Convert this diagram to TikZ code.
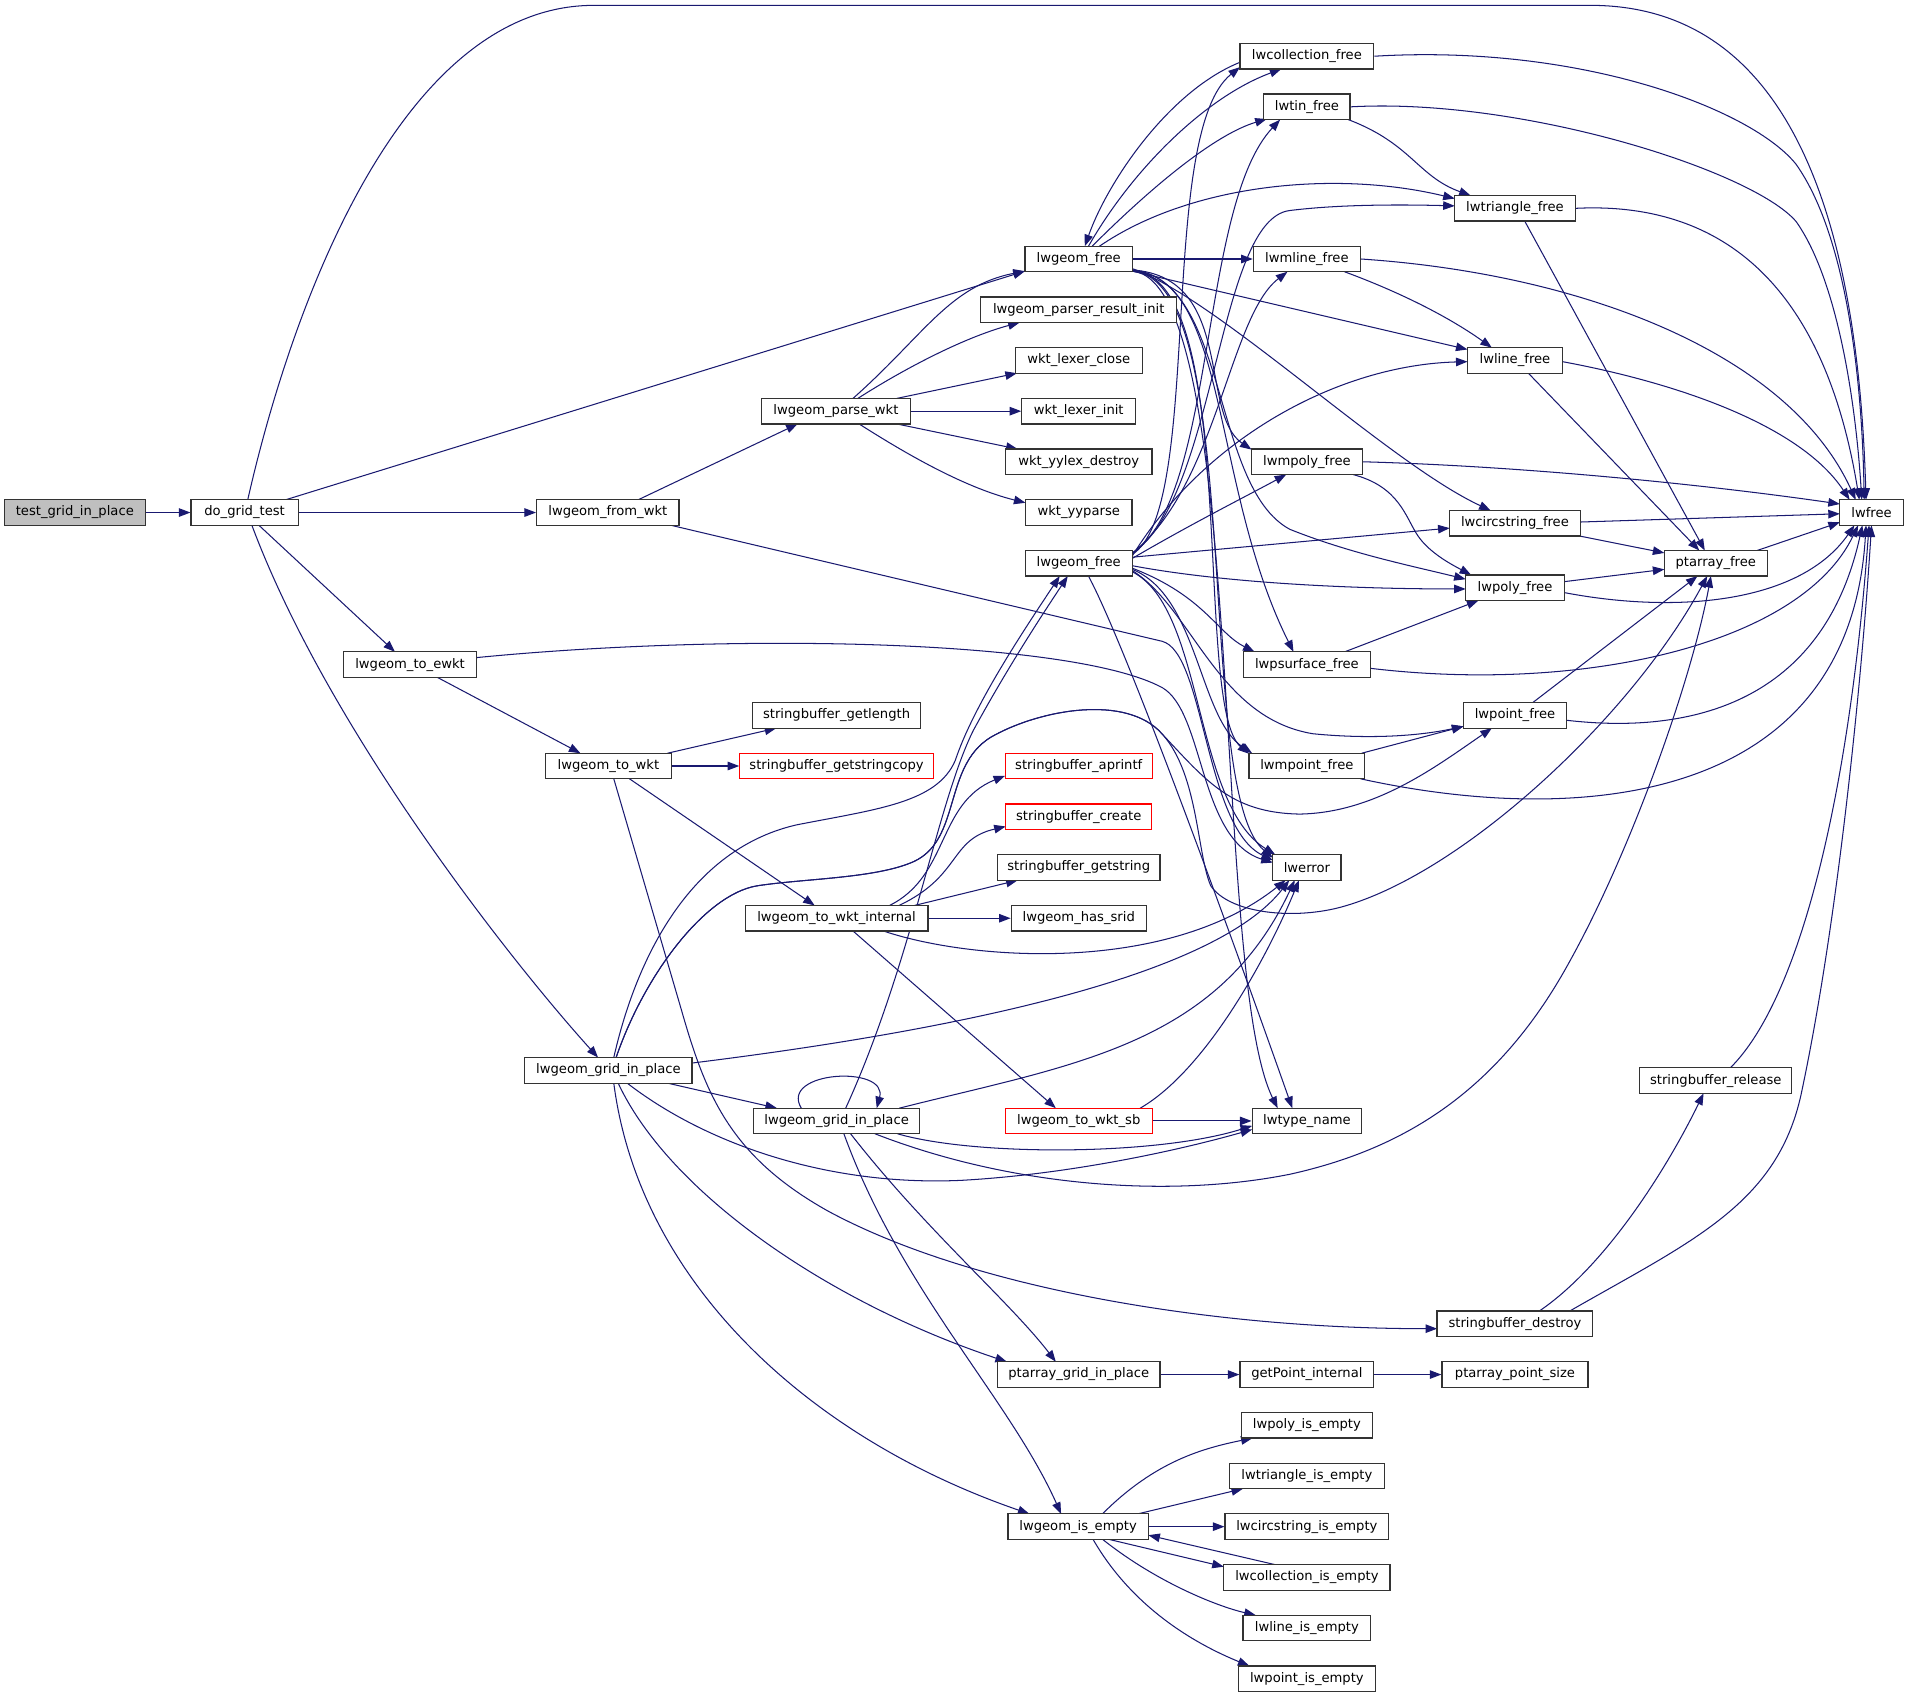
\documentclass[tikz,border=0pt]{standalone}
\usepackage{fontspec}
\newfontfamily\dvs{DejaVu Sans}
\usetikzlibrary{arrows.meta}
\definecolor{edgeblue}{HTML}{191970}
\pgfdeclarelayer{bg}
\pgfsetlayers{bg,main}
\tikzset{
  nd/.style={draw=black!80, line width=1pt, fill=white, minimum height=21pt, inner xsep=6pt, inner ysep=0pt, font=\dvs\fontsize{10.8pt}{13pt}\selectfont},
  rnd/.style={nd, draw=red},
  root/.style={nd, fill=black!25},
  edg/.style={draw=edgeblue, line width=0.85pt, -{Triangle[length=9.5pt,width=7pt]}}
}
\begin{document}
\begin{tikzpicture}[x=1pt,y=-1pt]
\useasboundingbox (0,0) rectangle (1568,1394);

\node[root, minimum width=116pt] (tgip) at (61.5,421.2) {test\_grid\_in\_place};
\node[nd, minimum width=88pt] (dgt) at (201,421.2) {do\_grid\_test};
\node[nd, minimum width=117pt] (lwfw) at (499.5,421.2) {lwgeom\_from\_wkt};
\node[nd, minimum width=122pt] (lwpw) at (687,337.9) {lwgeom\_parse\_wkt};
\node[nd, minimum width=88.5pt] (lwf5) at (886.5,212.85) {lwgeom\_free};
\node[nd, minimum width=161pt] (lprinit) at (886.5,254.5) {lwgeom\_parser\_result\_init};
\node[nd, minimum width=104.5pt] (wlc) at (886.5,296.2) {wkt\_lexer\_close};
\node[nd, minimum width=93.5pt] (wli) at (886.5,337.9) {wkt\_lexer\_init};
\node[nd, minimum width=120.5pt] (wyd) at (886.5,379.5) {wkt\_yylex\_destroy};
\node[nd, minimum width=87.5pt] (wyp) at (886.5,421.2) {wkt\_yyparse};
\node[nd, minimum width=88pt] (lwf11) at (886.5,462.9) {lwgeom\_free};
\node[nd, minimum width=110pt] (lwcf) at (1074,46.2) {lwcollection\_free};
\node[nd, minimum width=71pt] (lwtin) at (1074,87.8) {lwtin\_free};
\node[nd, minimum width=99pt] (lwtri) at (1245,171.2) {lwtriangle\_free};
\node[nd, minimum width=88pt] (lwml) at (1074,212.85) {lwmline\_free};
\node[nd, minimum width=78pt] (lwl) at (1245,296.2) {lwline\_free};
\node[nd, minimum width=91pt] (lwmp) at (1074,379.5) {lwmpoly\_free};
\node[nd, minimum width=107.4pt] (lwcs) at (1245,430) {lwcircstring\_free};
\node[nd, minimum width=81pt] (lwpf) at (1245,483) {lwpoly\_free};
\node[nd, minimum width=84.4pt] (ptf) at (1410,462.9) {ptarray\_free};
\node[nd, minimum width=52pt] (lwfree) at (1538,421.2) {lwfree};
\node[nd, minimum width=104pt] (lwps) at (1074,546.2) {lwpsurface\_free};
\node[nd, minimum width=84.6pt] (lwpt) at (1245,587.9) {lwpoint\_free};
\node[nd, minimum width=95pt] (lwmpt) at (1074,629.5) {lwmpoint\_free};
\node[nd, minimum width=56pt] (lwerr) at (1074,712.9) {lwerror};
\node[nd, minimum width=109.5pt] (lwte) at (337,546.2) {lwgeom\_to\_ewkt};
\node[nd, minimum width=103.5pt] (lwtw) at (500,629.5) {lwgeom\_to\_wkt};
\node[nd, minimum width=137.7pt] (sbgl) at (687.5,587.9) {stringbuffer\_getlength};
\node[rnd, minimum width=159pt] (sbgsc) at (687.5,629.5) {stringbuffer\_getstringcopy};
\node[rnd, minimum width=121pt] (sbap) at (886.5,629.5) {stringbuffer\_aprintf};
\node[rnd, minimum width=120pt] (sbcr) at (886.5,671.2) {stringbuffer\_create};
\node[nd, minimum width=133.6pt] (sbgs) at (886.5,712.9) {stringbuffer\_getstring};
\node[nd, minimum width=150.3pt] (lwtwi) at (687.5,754.6) {lwgeom\_to\_wkt\_internal};
\node[nd, minimum width=111pt] (lhs) at (886.5,754.6) {lwgeom\_has\_srid};
\node[nd, minimum width=137.5pt] (grid1) at (500,879.6) {lwgeom\_grid\_in\_place};
\node[nd, minimum width=136.8pt] (grid2) at (687.5,921.2) {lwgeom\_grid\_in\_place};
\node[rnd, minimum width=121pt] (sb) at (886.5,921.2) {lwgeom\_to\_wkt\_sb};
\node[nd, minimum width=90pt] (lwtn) at (1074,921.2) {lwtype\_name};
\node[nd, minimum width=125pt] (sbrel) at (1410,888) {stringbuffer\_release};
\node[nd, minimum width=128pt] (sbdes) at (1245,1087.9) {stringbuffer\_destroy};
\node[nd, minimum width=133.6pt] (ptgip) at (886.5,1129.6) {ptarray\_grid\_in\_place};
\node[nd, minimum width=110pt] (gpi) at (1074,1129.6) {getPoint\_internal};
\node[nd, minimum width=120pt] (pps) at (1245,1129.6) {ptarray\_point\_size};
\node[nd, minimum width=115.4pt] (lwie) at (886,1254.6) {lwgeom\_is\_empty};
\node[nd, minimum width=108pt] (lwpie) at (1074,1171.3) {lwpoly\_is\_empty};
\node[nd, minimum width=127pt] (lwtie) at (1074,1212.9) {lwtriangle\_is\_empty};
\node[nd, minimum width=134.5pt] (lwcie) at (1074,1254.6) {lwcircstring\_is\_empty};
\node[nd, minimum width=136.6pt] (lwcoie) at (1074,1296.3) {lwcollection\_is\_empty};
\node[nd, minimum width=105pt] (lwlie) at (1074,1337.9) {lwline\_is\_empty};
\node[nd, minimum width=112.5pt] (lwptie) at (1074,1379.6) {lwpoint\_is\_empty};

\begin{pgfonlayer}{bg}
\fill[white] (0,0) rectangle (1568,1394);
% root and do_grid_test
\draw[edg] (tgip.east) -- (dgt.west);
\draw[edg] ([shift={(2.6,-10.5)}]dgt.center) .. controls (240,250) and (330,4.4) .. (488,4.4) -- (1307,4.4) .. controls (1440,4.4) and (1525,120) .. ([shift={(-4.5,-10.5)}]lwfree.center);
\draw[edg] ([shift={(33.8,-10.5)}]dgt.center) -- ([shift={(-44.25,10)}]lwf5.center);
\draw[edg] (dgt.east) -- (lwfw.west);
\draw[edg] ([shift={(11.8,10.5)}]dgt.center) -- ([shift={(-12.4,-10.5)}]lwte.center);
\draw[edg] ([shift={(6,10.5)}]dgt.center) .. controls (270,600) and (420,790) .. ([shift={(-8.5,-10.5)}]grid1.center);
% lwgeom_from_wkt
\draw[edg] ([shift={(25,-10.5)}]lwfw.center) -- ([shift={(-31.5,10.5)}]lwpw.center);
\draw[edg] ([shift={(52,10.5)}]lwfw.center) -- (955,527) .. controls (990,536) and (990,680) .. ([shift={(-28,-6)}]lwerr.center);
% lwgeom_parse_wkt
\draw[edg] ([shift={(14,-10.5)}]lwpw.center) .. controls (760,275) and (780,235) .. ([shift={(-44.25,10)}]lwf5.center);
\draw[edg] ([shift={(18,-10.5)}]lwpw.center) .. controls (740,305) and (790,278) .. ([shift={(-48.5,10.5)}]lprinit.center);
\draw[edg] ([shift={(50,-10.5)}]lwpw.center) -- ([shift={(-50.8,10.5)}]wlc.center);
\draw[edg] (lwpw.east) -- (wli.west);
\draw[edg] ([shift={(50,10.5)}]lwpw.center) -- ([shift={(-50.2,-10.5)}]wyd.center);
\draw[edg] ([shift={(19,10.5)}]lwpw.center) .. controls (740,370) and (790,400) .. ([shift={(-43.75,-8)}]wyp.center);
% lwgeom_free (upper)
\draw[edg] ([shift={(-55,5)}]lwcf.center) .. controls (960,75) and (910,150) .. ([shift={(5,-10.5)}]lwf5.center);
\draw[edg] ([shift={(8,-10.5)}]lwf5.center) .. controls (930,140) and (990,80) .. ([shift={(-21,10.5)}]lwcf.center);
\draw[edg] ([shift={(11,-10.5)}]lwf5.center) .. controls (950,150) and (1000,110) .. ([shift={(-33,10)}]lwtin.center);
\draw[edg] ([shift={(17,-10.5)}]lwf5.center) .. controls (980,150) and (1100,140) .. ([shift={(-49.5,-8)}]lwtri.center);
\draw[edg] (lwf5.east) -- (lwml.west);
\draw[edg] ([shift={(44.25,10)}]lwf5.center) -- ([shift={(-39,-9)}]lwl.center);
\draw[edg] ([shift={(44.25,8)}]lwf5.center) .. controls (1000,245) and (1140,380) .. ([shift={(-20,-10.5)}]lwcs.center);
\draw[edg] ([shift={(44.25,9)}]lwf5.center) .. controls (1010,230) and (995,400) .. (1060,435) .. controls (1110,455) and (1160,465) .. ([shift={(-40.5,-7)}]lwpf.center);
\draw[edg] ([shift={(44.25,9)}]lwf5.center) .. controls (1015,228) and (985,340) .. ([shift={(-45.5,-10)}]lwmp.center);
\draw[edg] ([shift={(44.25,9.5)}]lwf5.center) .. controls (1010,228) and (995,400) .. ([shift={(-11,-10.5)}]lwps.center);
\draw[edg] ([shift={(44.25,9.5)}]lwf5.center) .. controls (1020,228) and (980,580) .. ([shift={(-47.5,-10)}]lwmpt.center);
\draw[edg] ([shift={(44.25,10)}]lwf5.center) .. controls (1025,230) and (980,650) .. ([shift={(-28,-8)}]lwerr.center);
\draw[edg] ([shift={(44.25,10)}]lwf5.center) .. controls (1025,232) and (995,800) .. ([shift={(-24,-10.5)}]lwtn.center);
% lwgeom_free (lower)
\draw[edg] ([shift={(43.5,-7)}]lwf11.center) .. controls (990,420) and (950,110) .. ([shift={(-55,9)}]lwcf.center);
\draw[edg] ([shift={(43.5,-8)}]lwf11.center) .. controls (1000,410) and (985,170) .. ([shift={(-22,10.5)}]lwtin.center);
\draw[edg] ([shift={(43.5,-8)}]lwf11.center) .. controls (1000,410) and (1000,180) .. (1060,173) .. controls (1100,168) and (1150,168) .. ([shift={(-49.5,-2)}]lwtri.center);
\draw[edg] ([shift={(43.5,-8)}]lwf11.center) .. controls (1000,400) and (1010,260) .. ([shift={(-16,10.5)}]lwml.center);
\draw[edg] ([shift={(44,-6)}]lwf11.center) .. controls (990,360) and (1100,300) .. ([shift={(-39,1)}]lwl.center);
\draw[edg] ([shift={(44,-5)}]lwf11.center) -- ([shift={(-53.7,4)}]lwcs.center);
\draw[edg] ([shift={(44,2)}]lwf11.center) .. controls (1000,478) and (1100,484) .. ([shift={(-40.5,1)}]lwpf.center);
\draw[edg] ([shift={(44,-4)}]lwf11.center) .. controls (980,430) and (1020,410) .. ([shift={(-17,10.5)}]lwmp.center);
\draw[edg] ([shift={(44,4)}]lwf11.center) .. controls (990,490) and (1000,520) .. ([shift={(-43,-10.5)}]lwps.center);
\draw[edg] ([shift={(44,6)}]lwf11.center) .. controls (980,500) and (1000,590) .. (1079,603) .. controls (1130,608) and (1170,604) .. ([shift={(-42.3,9)}]lwpt.center);
\draw[edg] ([shift={(44,5)}]lwf11.center) .. controls (985,490) and (985,590) .. ([shift={(-45,-10.5)}]lwmpt.center);
\draw[edg] ([shift={(44,7)}]lwf11.center) .. controls (990,500) and (980,660) .. ([shift={(-26,-10.5)}]lwerr.center);
\draw[edg] ([shift={(8,10.5)}]lwf11.center) .. controls (930,540) and (1030,820) .. ([shift={(-12,-10.5)}]lwtn.center);
% free functions
\draw[edg] (lwtin.east) .. controls (1250,80) and (1440,140) .. (1476,182) .. controls (1510,230) and (1525,330) .. ([shift={(-8,-10.5)}]lwfree.center);
\draw[edg] (lwcf.east) .. controls (1300,36) and (1440,90) .. (1476,135) .. controls (1515,190) and (1530,300) .. ([shift={(-6,-10.5)}]lwfree.center);
\draw[edg] ([shift={(34,10.5)}]lwtin.center) .. controls (1160,118) and (1165,145) .. ([shift={(-36.4,-10.5)}]lwtri.center);
\draw[edg] (lwtri.east) .. controls (1420,165) and (1500,240) .. ([shift={(-10,-10.5)}]lwfree.center);
\draw[edg] ([shift={(8,10.5)}]lwtri.center) -- ([shift={(-9,-10.5)}]ptf.center);
\draw[edg] (lwml.east) .. controls (1300,225) and (1470,290) .. ([shift={(-13,-10.5)}]lwfree.center);
\draw[edg] ([shift={(31,10.5)}]lwml.center) .. controls (1150,240) and (1190,260) .. ([shift={(-19,-10.5)}]lwl.center);
\draw[edg] ([shift={(39,1)}]lwl.center) .. controls (1380,315) and (1480,350) .. ([shift={(-18,-10.5)}]lwfree.center);
\draw[edg] ([shift={(11,10.5)}]lwl.center) -- ([shift={(-13.5,-10.5)}]ptf.center);
\draw[edg] (lwmp.east) .. controls (1250,383) and (1400,398) .. ([shift={(-26,-7)}]lwfree.center);
\draw[edg] ([shift={(38,10.5)}]lwmp.center) .. controls (1150,400) and (1155,425) .. (1165,440) .. controls (1175,455) and (1195,465) .. ([shift={(-36,-10.5)}]lwpf.center);
\draw[edg] ([shift={(53.7,-1)}]lwcs.center) -- ([shift={(-26,1)}]lwfree.center);
\draw[edg] ([shift={(53,10.5)}]lwcs.center) -- ([shift={(-42.2,-8.5)}]ptf.center);
\draw[edg] ([shift={(40.5,-5)}]lwpf.center) -- ([shift={(-42.2,5)}]ptf.center);
\draw[edg] ([shift={(40.5,4)}]lwpf.center) .. controls (1380,505) and (1480,495) .. ([shift={(-14,10.5)}]lwfree.center);
\draw[edg] ([shift={(34,-10.5)}]ptf.center) -- ([shift={(-26,8)}]lwfree.center);
\draw[edg] ([shift={(31,-10.5)}]lwps.center) -- ([shift={(-30,10.5)}]lwpf.center);
\draw[edg] ([shift={(52,3)}]lwps.center) .. controls (1300,570) and (1480,530) .. ([shift={(-11,10.5)}]lwfree.center);
\draw[edg] ([shift={(14.6,-10.5)}]lwpt.center) -- ([shift={(-15,10.5)}]ptf.center);
\draw[edg] ([shift={(42.3,4)}]lwpt.center) .. controls (1400,605) and (1500,570) .. ([shift={(-7.5,10.5)}]lwfree.center);
\draw[edg] ([shift={(45,-10.5)}]lwmpt.center) -- ([shift={(-42.3,9)}]lwpt.center);
\draw[edg] ([shift={(44,10.5)}]lwmpt.center) .. controls (1300,680) and (1520,660) .. ([shift={(-4.5,10.5)}]lwfree.center);
\draw[edg] ([shift={(12,-10.5)}]sbrel.center) .. controls (1480,820) and (1520,650) .. ([shift={(-2,10.5)}]lwfree.center);
\draw[edg] ([shift={(20,-10.5)}]sbdes.center) .. controls (1320,1040) and (1370,960) .. ([shift={(-10,10.5)}]sbrel.center);
\draw[edg] ([shift={(45,-10.5)}]sbdes.center) .. controls (1390,1020) and (1460,990) .. (1480,900) .. controls (1510,760) and (1530,560) .. ([shift={(0,10.5)}]lwfree.center);
% to_ewkt / to_wkt
\draw[edg] ([shift={(22.5,10.5)}]lwte.center) -- ([shift={(-23,-10.5)}]lwtw.center);
\draw[edg] ([shift={(54.75,-5.8)}]lwte.center) .. controls (600,520) and (880,525) .. (955,565) .. controls (990,585) and (985,690) .. ([shift={(-28,-4)}]lwerr.center);
\draw[edg] ([shift={(48.5,-10.5)}]lwtw.center) -- ([shift={(-49.5,10.5)}]sbgl.center);
\draw[edg] (lwtw.east) -- (sbgsc.west);
\draw[edg] ([shift={(17.3,10.5)}]lwtw.center) -- ([shift={(-18,-10.5)}]lwtwi.center);
\draw[edg] ([shift={(4.4,10.5)}]lwtw.center) -- (560,830) .. controls (580,900) and (600,950) .. (680,995) .. controls (800,1060) and (1000,1092) .. ([shift={(-64,4)}]sbdes.center);
% to_wkt_internal
\draw[edg] ([shift={(43.5,-10.5)}]lwtwi.center) .. controls (780,720) and (770,660) .. ([shift={(-60.5,8)}]sbap.center);
\draw[edg] ([shift={(51.3,-10.5)}]lwtwi.center) .. controls (790,720) and (780,690) .. ([shift={(-60,8)}]sbcr.center);
\draw[edg] ([shift={(64,-10.5)}]lwtwi.center) -- ([shift={(-50.2,10.5)}]sbgs.center);
\draw[edg] (lwtwi.east) -- (lhs.west);
\draw[edg] ([shift={(13.5,10.5)}]lwtwi.center) -- ([shift={(-18.8,-10.5)}]sb.center);
\draw[edg] ([shift={(38.5,10.5)}]lwtwi.center) .. controls (800,790) and (960,800) .. ([shift={(-17.5,10.5)}]lwerr.center);
\draw[edg] (sb.east) -- (lwtn.west);
\draw[edg] ([shift={(50.5,-10.5)}]sb.center) .. controls (990,880) and (1040,790) .. ([shift={(-6.5,10.5)}]lwerr.center);
% grid1
\draw[edg] ([shift={(4.4,-10.5)}]grid1.center) .. controls (520,800) and (560,700) .. (654,678) .. controls (720,665) and (770,660) .. (785,625) .. controls (800,580) and (840,520) .. ([shift={(-15.6,10.5)}]lwf11.center);
\draw[edg] ([shift={(6.3,-10.5)}]grid1.center) .. controls (530,800) and (580,735) .. (622,728) .. controls (660,722) and (720,722) .. (751,708) .. controls (790,690) and (775,630) .. (814,606) .. controls (850,585) and (920,570) .. (952,600) .. controls (990,640) and (1010,668) .. (1068,669) .. controls (1130,668) and (1180,630) .. ([shift={(-19,10.5)}]lwpt.center);
\draw[edg] ([shift={(6.3,-10.5)}]grid1.center) .. controls (530,800) and (580,735) .. (622,728) .. controls (660,722) and (720,722) .. (751,708) .. controls (790,690) and (775,630) .. (814,606) .. controls (850,585) and (920,570) .. (952,600) .. controls (985,632) and (983,700) .. (995,728) .. controls (1010,750) and (1060,756) .. (1100,746) .. controls (1200,720) and (1340,590) .. ([shift={(-7,10.5)}]ptf.center);
\draw[edg] ([shift={(68.75,-6)}]grid1.center) .. controls (800,845) and (1000,800) .. ([shift={(-14.5,10.5)}]lwerr.center);
\draw[edg] ([shift={(48.5,10.5)}]grid1.center) -- ([shift={(-49,-10.5)}]grid2.center);
\draw[edg] ([shift={(15.4,10.5)}]grid1.center) .. controls (580,940) and (680,975) .. (790,970) .. controls (880,965) and (970,945) .. ([shift={(-45,7)}]lwtn.center);
\draw[edg] ([shift={(8,10.5)}]grid1.center) .. controls (550,980) and (680,1070) .. ([shift={(-59,-10.5)}]ptgip.center);
\draw[edg] ([shift={(4.4,10.5)}]grid1.center) .. controls (525,1050) and (660,1180) .. ([shift={(-40,-10.5)}]lwie.center);
% grid2
\draw[edg] ([shift={(-29,-10.5)}]grid2.center) .. controls (640,880) and (730,875) .. ([shift={(33,-10.5)}]grid2.center);
\draw[edg] ([shift={(7.5,-10.5)}]grid2.center) .. controls (750,790) and (770,660) .. (800,600) .. controls (830,545) and (860,500) .. ([shift={(-9,10.5)}]lwf11.center);
\draw[edg] ([shift={(51.5,-10.5)}]grid2.center) .. controls (880,875) and (1000,860) .. ([shift={(-10,10.5)}]lwerr.center);
\draw[edg] ([shift={(50,10.5)}]grid2.center) .. controls (800,950) and (950,950) .. ([shift={(-45,4)}]lwtn.center);
\draw[edg] ([shift={(31.5,10.5)}]grid2.center) .. controls (830,975) and (960,985) .. (1060,965) .. controls (1150,945) and (1230,900) .. (1290,790) .. controls (1340,700) and (1390,560) .. ([shift={(-4,10.5)}]ptf.center);
\draw[edg] ([shift={(11.5,10.5)}]grid2.center) .. controls (760,1010) and (830,1070) .. ([shift={(-18.8,-10.5)}]ptgip.center);
\draw[edg] ([shift={(6,10.5)}]grid2.center) .. controls (740,1060) and (830,1150) .. ([shift={(-14,-10.5)}]lwie.center);
% ptarray chain
\draw[edg] (ptgip.east) -- (gpi.west);
\draw[edg] (gpi.east) -- (pps.west);
% is_empty
\draw[edg] ([shift={(20,-10.5)}]lwie.center) .. controls (950,1200) and (990,1190) .. ([shift={(-44.6,10.5)}]lwpie.center);
\draw[edg] ([shift={(49,-10.5)}]lwie.center) -- ([shift={(-52.5,10.5)}]lwtie.center);
\draw[edg] (lwie.east) -- (lwcie.west);
\draw[edg] ([shift={(25.5,10.5)}]lwie.center) -- ([shift={(-68.3,-8.8)}]lwcoie.center);
\draw[edg] ([shift={(-26.2,-10.5)}]lwcoie.center) -- ([shift={(57.7,7)}]lwie.center);
\draw[edg] ([shift={(20.2,10.5)}]lwie.center) .. controls (950,1300) and (1000,1320) .. ([shift={(-42,-10.5)}]lwlie.center);
\draw[edg] ([shift={(12.3,10.5)}]lwie.center) .. controls (930,1320) and (980,1350) .. ([shift={(-47.2,-10.5)}]lwptie.center);
\end{pgfonlayer}
\end{tikzpicture}
\end{document}
